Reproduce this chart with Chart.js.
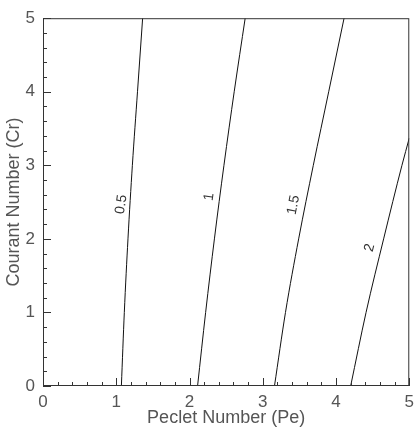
<!DOCTYPE html>
<html>
<head>
<meta charset="utf-8">
<script src="https://cdn.jsdelivr.net/npm/chart.js@4.4.0/dist/chart.umd.min.js"></script>
<style>
  body { margin: 0; background: #fff; }
  canvas { display: block; }
</style>
</head>
<body>
<canvas id="pecletChart" width="420" height="435"></canvas>
<script>
// contour values (Pe at given Cr)
let crLevels = [0, 1, 2, 3, 4, 5];
let pe05 = [1.07, 1.11, 1.16, 1.22, 1.29, 1.36];
let pe1 = [2.11, 2.22, 2.34, 2.47, 2.61, 2.76];
let pe15 = [3.16, 3.31, 3.49, 3.69, 3.90, 4.11];
let pe2 = [4.20, 4.41, 4.65, 4.90];
let pe2End = [5.0, 3.37]; // where the 2 curve leaves the box

let xTicks = [0, 1, 2, 3, 4, 5];
let yTicks = [0, 1, 2, 3, 4, 5];

let contourNames = ["0.5", "1", "1.5", "2"];
let labelPe = [1.07, 2.27, 3.42, 4.46];
let labelCr = [2.47, 2.57, 2.46, 1.88];
let labelAngle = [-82, -82, -79, -76];

function toPoints(xs, ys) {
  return xs.map(function (v, i) {
    return { x: v, y: ys[i] };
  });
}

let curve2 = toPoints(pe2, crLevels);
curve2.push({ x: pe2End[0], y: pe2End[1] });

let textColor = "#555";
let fontFamily = "'Liberation Sans', Arial, sans-serif";

// box, inward ticks and contour labels
const framePlugin = {
  id: "frame",
  afterDraw(chart) {
    const ctx = chart.ctx;
    const a = chart.chartArea;
    const xs = chart.scales.x;
    const ys = chart.scales.y;
    ctx.save();
    ctx.strokeStyle = "#333";
    ctx.lineWidth = 1;
    ctx.strokeRect(a.left + 0.5, a.top + 0.5, a.right - a.left - 1, a.bottom - a.top - 1);

    ctx.beginPath();
    for (let v = 0; v <= 5.001; v += 0.2) {
      let major = Math.abs(v - Math.round(v)) < 0.01;
      let len = major ? 8 : 4;
      let px = Math.round(xs.getPixelForValue(v)) + 0.5;
      ctx.moveTo(px, a.bottom);
      ctx.lineTo(px, a.bottom - len);
      let py = Math.round(ys.getPixelForValue(v)) + 0.5;
      ctx.moveTo(a.left, py);
      ctx.lineTo(a.left + len, py);
    }
    ctx.stroke();

    ctx.fillStyle = "#333";
    ctx.font = "14px " + fontFamily;
    ctx.textAlign = "center";
    ctx.textBaseline = "middle";
    contourNames.forEach(function (name, i) {
      ctx.save();
      ctx.translate(xs.getPixelForValue(labelPe[i]), ys.getPixelForValue(labelCr[i]));
      ctx.rotate((labelAngle[i] * Math.PI) / 180);
      ctx.fillText(name, 0, 0);
      ctx.restore();
    });
    ctx.restore();
  },
};

function lineSet(data) {
  return {
    data: data,
    borderColor: "#111",
    borderWidth: 1,
    pointRadius: 0,
    cubicInterpolationMode: "monotone",
    fill: false,
  };
}

var ctx = document.getElementById("pecletChart").getContext("2d");
window.myChart = new Chart(ctx, {
  type: "line",
  data: {
    datasets: [
      lineSet(toPoints(pe05, crLevels)),
      lineSet(toPoints(pe1, crLevels)),
      lineSet(toPoints(pe15, crLevels)),
      lineSet(curve2),
    ],
  },
  options: {
    responsive: false,
    animation: false,
    layout: {
      padding: { left: 0, right: 7, top: 14, bottom: 6 },
    },
    plugins: {
      legend: { display: false },
      tooltip: { enabled: false },
    },
    scales: {
      x: {
        type: "linear",
        min: 0,
        max: 5,
        grid: { display: false, drawTicks: false },
        border: { display: false },
        afterBuildTicks(scale) {
          scale.ticks = xTicks.map((v) => ({ value: v }));
        },
        afterFit(scale) {
          scale.height = 43;
        },
        ticks: {
          padding: 6,
          color: textColor,
          font: { family: fontFamily, size: 17 },
          maxRotation: 0,
        },
        title: {
          display: true,
          text: "Peclet Number (Pe)",
          color: textColor,
          font: { family: fontFamily, size: 18 },
          padding: { top: 0, bottom: 0 },
        },
      },
      y: {
        type: "linear",
        min: 0,
        max: 5,
        grid: { display: false, drawTicks: false },
        border: { display: false },
        afterBuildTicks(scale) {
          scale.ticks = yTicks.map((v) => ({ value: v }));
        },
        afterFit(scale) {
          scale.width = 43;
        },
        ticks: {
          padding: 8,
          color: textColor,
          font: { family: fontFamily, size: 17 },
        },
        title: {
          display: true,
          text: "Courant Number (Cr)",
          color: textColor,
          font: { family: fontFamily, size: 18 },
          padding: { top: 3, bottom: 0 },
        },
      },
    },
  },
  plugins: [framePlugin],
});
</script>
</body>
</html>
